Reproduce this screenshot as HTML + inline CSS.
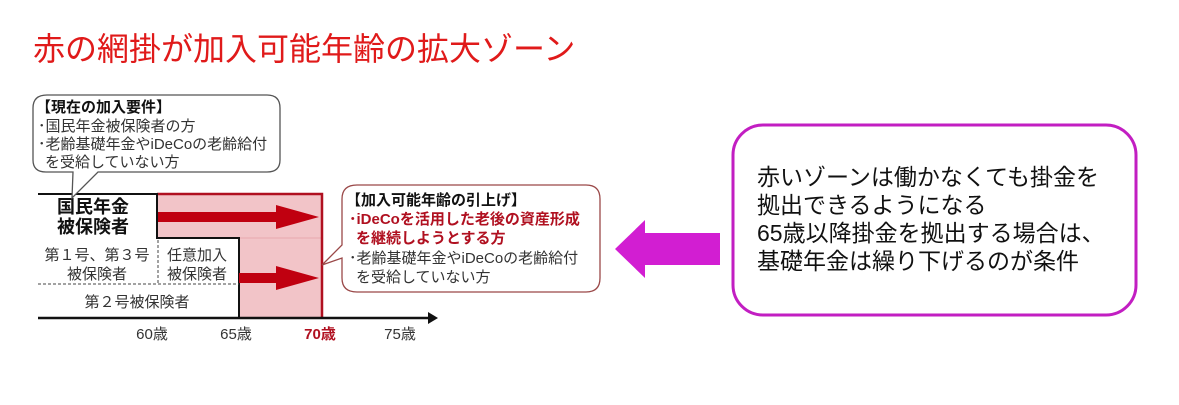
<!DOCTYPE html>
<html><head><meta charset="utf-8"><style>
body{margin:0;background:#fff;width:1179px;height:400px;overflow:hidden}
svg text{font-family:"Liberation Sans","Noto Sans CJK JP",sans-serif}
</style></head><body>
<svg width="1179" height="400" viewBox="0 0 1179 400" xmlns="http://www.w3.org/2000/svg">
<text x="33" y="60" font-size="32" fill="#e01a1a">赤の網掛が加入可能年齢の拡大ゾーン</text>

<path d="M157,194 L322,194 L322,318 L239,318 L239,238 L157,238 Z" fill="#f2c4c8"/>
<line x1="157" y1="238" x2="322" y2="238" stroke="#e8a8ae" stroke-width="1"/>
<path d="M157,194 L322,194 L322,318" fill="none" stroke="#b01020" stroke-width="2.5"/>
<path d="M38,194 L157,194 L157,238 L239,238 L239,318" fill="none" stroke="#111" stroke-width="2"/>
<line x1="38" y1="318" x2="430" y2="318" stroke="#111" stroke-width="2.5"/>
<path d="M428,312 L438,318 L428,324 Z" fill="#111"/>
<line x1="158" y1="240" x2="158" y2="284" stroke="#444" stroke-width="1" stroke-dasharray="3,2"/>
<line x1="38" y1="284" x2="239" y2="284" stroke="#444" stroke-width="1" stroke-dasharray="3,2"/>

<path d="M158,212 L276,212 L276,205 L319,217 L276,229 L276,222 L158,222 Z" fill="#c00010"/>
<path d="M239,273 L276,273 L276,266 L319,278 L276,290 L276,283 L239,283 Z" fill="#c00010"/>

<g font-size="18" font-weight="bold" fill="#111" text-anchor="middle">
<text x="93" y="213">国民年金</text><text x="93" y="233">被保険者</text></g>
<g font-size="15" fill="#333" text-anchor="middle">
<text x="97" y="260">第１号、第３号</text><text x="97" y="279">被保険者</text>
<text x="197" y="260">任意加入</text><text x="197" y="279">被保険者</text>
<text x="137" y="307">第２号被保険者</text></g>
<g font-size="15" fill="#333" text-anchor="middle">
<text x="152" y="339">60歳</text><text x="236" y="339">65歳</text>
<text x="320" y="339" fill="#b01020" font-weight="bold">70歳</text>
<text x="400" y="339">75歳</text></g>

<path d="M47,95 L267,95 Q280,95 280,108 L280,160 Q280,172 267,172 L98,172 L72,198 L73,172 L46,172 Q33,172 33,160 L33,108 Q33,95 47,95 Z" fill="#fff" stroke="#555" stroke-width="1.3"/>
<g font-size="15" fill="#333">
<text x="36" y="112" font-weight="bold" fill="#111">【現在の加入要件】</text>
<text x="38" y="131">･国民年金被保険者の方</text>
<text x="38" y="149">･老齢基礎年金やiDeCoの老齢給付</text>
<text x="45" y="167">を受給していない方</text></g>

<path d="M357,185 L586,185 Q600,185 600,199 L600,278 Q600,292 586,292 L357,292 Q342,292 342,278 L342,258 L322,265 L342,245 L342,199 Q342,185 357,185 Z" fill="#fff" stroke="#9a4848" stroke-width="1.3"/>
<g font-size="15" fill="#333">
<text x="346" y="205" font-weight="bold" fill="#111">【加入可能年齢の引上げ】</text>
<text x="349" y="224" font-weight="bold" fill="#b01020">･iDeCoを活用した老後の資産形成</text>
<text x="356" y="243" font-weight="bold" fill="#b01020">を継続しようとする方</text>
<text x="349" y="263">･老齢基礎年金やiDeCoの老齢給付</text>
<text x="356" y="282">を受給していない方</text></g>

<path d="M615,249 L645,220 L645,233 L720,233 L720,265 L645,265 L645,278 Z" fill="#d21ed2"/>
<rect x="733" y="125" width="403" height="190" rx="30" fill="#fff" stroke="#c21ec2" stroke-width="3"/>
<g font-size="23" fill="#111">
<text x="757" y="185">赤いゾーンは働かなくても掛金を</text>
<text x="757" y="213">拠出できるようになる</text>
<text x="757" y="241">65歳以降掛金を拠出する場合は、</text>
<text x="757" y="269">基礎年金は繰り下げるのが条件</text></g>
</svg>
</body></html>
